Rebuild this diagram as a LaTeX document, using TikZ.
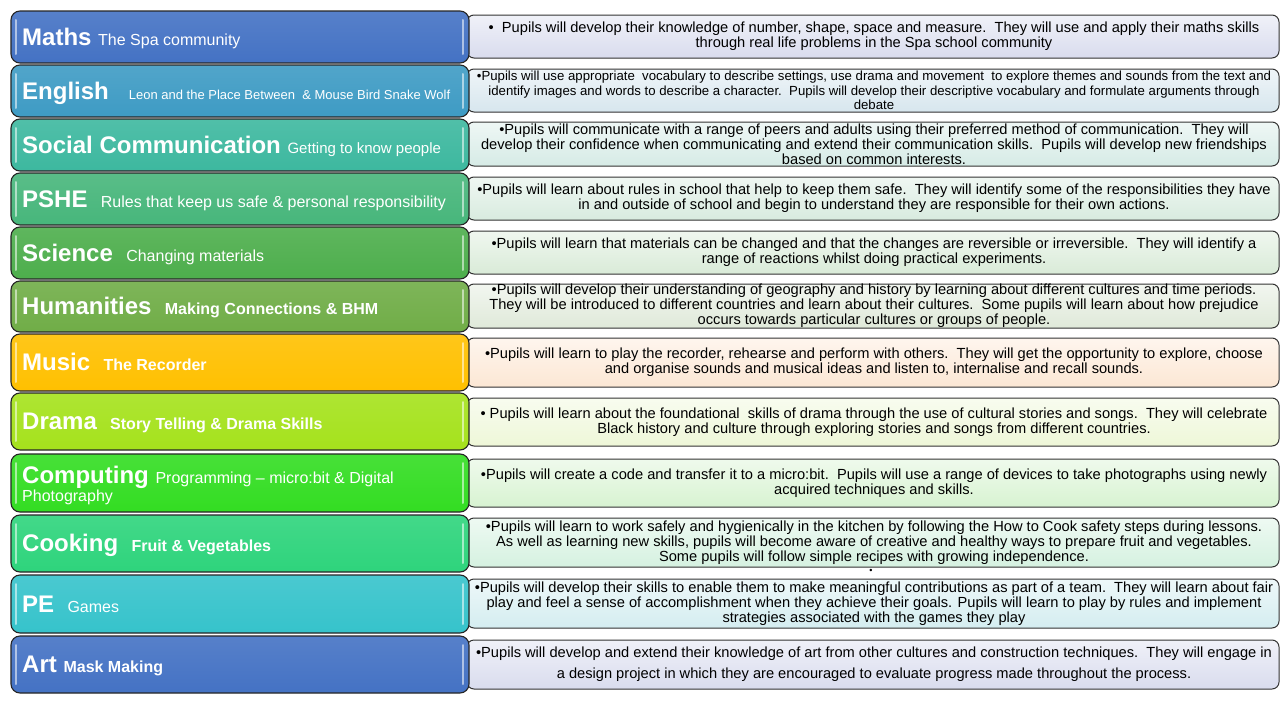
\documentclass[tikz,border=0pt]{standalone}
\usepackage{fontspec}
\setmainfont{Liberation Sans}
\newcommand\sbt[1]{{\fontsize{16}{18}\selectfont\mdseries #1}}
\newcommand\sbtb[1]{{\fontsize{16}{18}\selectfont\bfseries #1}}
\definecolor{cMaths}{HTML}{4472C4}\definecolor{rMaths}{HTML}{D9DCEE}
\definecolor{cEng}{HTML}{3E9BC4}\definecolor{rEng}{HTML}{D7E6EE}
\definecolor{cSoc}{HTML}{3DB89F}\definecolor{rSoc}{HTML}{D6EBE6}
\definecolor{cPSHE}{HTML}{47B67B}\definecolor{rPSHE}{HTML}{D8EBDF}
\definecolor{cSci}{HTML}{4DAE4C}\definecolor{rSci}{HTML}{D9EBD8}
\definecolor{cHum}{HTML}{70AD47}\definecolor{rHum}{HTML}{DFE9D9}
\definecolor{cMus}{HTML}{FFC000}\definecolor{rMus}{HTML}{FCE7D4}
\definecolor{cDra}{HTML}{A5E21C}\definecolor{rDra}{HTML}{EEF7D8}
\definecolor{cCom}{HTML}{33DD22}\definecolor{rCom}{HTML}{D7F3D1}
\definecolor{cCoo}{HTML}{2ED47C}\definecolor{rCoo}{HTML}{D5F1E0}
\definecolor{cPE}{HTML}{36C3CB}\definecolor{rPE}{HTML}{D4EDF0}
\definecolor{cArt}{HTML}{4472C4}\definecolor{rArt}{HTML}{D9DCEE}
\begin{document}
\begin{tikzpicture}[x=1pt,y=-1pt,
  lbox/.style={draw=black!85, line width=1.1pt, rounded corners=9pt, anchor=north west,
    minimum width=458pt, inner sep=0pt, outer sep=0pt, top color=#1!90!white, bottom color=#1},
  rbox/.style={draw=black!80, line width=1pt, rounded corners=7pt, anchor=north west,
    minimum width=812pt, inner sep=0pt, outer sep=0pt, top color=white!60!#1, bottom color=#1},
  ttl/.style={anchor=base west, inner sep=0pt, text=white, font=\fontsize{24}{26}\selectfont\bfseries},
  rtxt/.style={align=center, inner sep=0pt, text=black, font=\fontsize{14.65}{15}\selectfont},
  hl/.style={draw=white, opacity=0.55, line width=2pt, line cap=round}
]
\useasboundingbox[fill=white] (0,0) rectangle (1280,720);

% ---------- right boxes ----------
\node[rbox=rMaths, minimum height=43pt] (r1) at (467,15) {};
\node[rbox=rEng,   minimum height=43pt] (r2) at (467,69) {};
\node[rbox=rSoc,   minimum height=44pt] (r3) at (467,122) {};
\node[rbox=rPSHE,  minimum height=43pt] (r4) at (467,177) {};
\node[rbox=rSci,   minimum height=43pt] (r5) at (467,231) {};
\node[rbox=rHum,   minimum height=44pt] (r6) at (467,284) {};
\node[rbox=rMus,   minimum height=49pt] (r7) at (467,338) {};
\node[rbox=rDra,   minimum height=48pt] (r8) at (467,398) {};
\node[rbox=rCom,   minimum height=48pt] (r9) at (467,459) {};
\node[rbox=rCoo,   minimum height=49pt] (r10) at (467,518) {};
\node[rbox=rPE,    minimum height=49pt] (r11) at (467,579) {};
\node[rbox=rArt,   minimum height=49pt] (r12) at (467,640) {};

% ---------- right texts ----------
\node[rtxt] (t1) at (874,36.5) {•\ \ Pupils will develop their knowledge of number, shape, space and measure.\ \ They will use and apply their maths skills\\through real life problems in the Spa school community};
\node[rtxt, font=\fontsize{13.2}{14.5}\selectfont] (t2) at (874,90.5) {•Pupils will use appropriate\ \ vocabulary to describe settings, use drama and movement\ \ to explore themes and sounds from the text and\\identify images and words to describe a character.\ \ Pupils will develop their descriptive vocabulary and formulate arguments through\\debate};
\node[rtxt] (t3) at (874,144) {•Pupils will communicate with a range of peers and adults using their preferred method of communication.\ \ They will\\develop their confidence when communicating and extend their communication skills.\ \ Pupils will develop new friendships\\based on common interests.};
\node[rtxt] (t4) at (874,198.5) {•Pupils will learn about rules in school that help to keep them safe.\ \ They will identify some of the responsibilities they have\\in and outside of school and begin to understand they are responsible for their own actions.};
\node[rtxt] (t5) at (874,252.5) {•Pupils will learn that materials can be changed and that the changes are reversible or irreversible.\ \ They will identify a\\range of reactions whilst doing practical experiments.};
\node[rtxt] (t6) at (874,306) {•Pupils will develop their understanding of geography and history by learning about different cultures and time periods.\\They will be introduced to different countries and learn about their cultures.\ \ Some pupils will learn about how prejudice\\occurs towards particular cultures or groups of people.};
\node[rtxt] (t7) at (874,362) {•Pupils will learn to play the recorder, rehearse and perform with others.\ \ They will get the opportunity to explore, choose\\and organise sounds and musical ideas and listen to, internalise and recall sounds.};
\node[rtxt] (t8) at (874,422) {• Pupils will learn about the foundational\ \ skills of drama through the use of cultural stories and songs.\ \ They will celebrate\\Black history and culture through exploring stories and songs from different countries.};
\node[rtxt] (t9) at (874,483) {•Pupils will create a code and transfer it to a micro:bit.\ \ Pupils will use a range of devices to take photographs using newly\\acquired techniques and skills.};
\node[rtxt] (t10) at (874,543) {•Pupils will learn to work safely and hygienically in the kitchen by following the How to Cook safety steps during lessons.\\As well as learning new skills, pupils will become aware of creative and healthy ways to prepare fruit and vegetables.\\Some pupils will follow simple recipes with growing independence.};
\node[inner sep=0pt, font=\fontsize{9}{9}\selectfont] (dot) at (871,571) {•};
\node[rtxt] (t11) at (874,604) {•Pupils will develop their skills to enable them to make meaningful contributions as part of a team.\ \ They will learn about fair\\play and feel a sense of accomplishment when they achieve their goals. Pupils will learn to play by rules and implement\\strategies associated with the games they play};
\node[rtxt, font=\fontsize{14.65}{21}\selectfont] (t12) at (874,664) {•Pupils will develop and extend their knowledge of art from other cultures and construction techniques.\ \ They will engage in\\a design project in which they are encouraged to evaluate progress made throughout the process.};

% ---------- left boxes ----------
\node[lbox=cMaths, minimum height=52pt] (l1) at (11,11) {};
\node[lbox=cEng,   minimum height=52pt] (l2) at (11,65) {};
\node[lbox=cSoc,   minimum height=52pt] (l3) at (11,119) {};
\node[lbox=cPSHE,  minimum height=52pt] (l4) at (11,173) {};
\node[lbox=cSci,   minimum height=52pt] (l5) at (11,227) {};
\node[lbox=cHum,   minimum height=51pt] (l6) at (11,281) {};
\node[lbox=cMus,   minimum height=57pt] (l7) at (11,334) {};
\node[lbox=cDra,   minimum height=57pt] (l8) at (11,393) {};
\node[lbox=cCom,   minimum height=58pt] (l9) at (11,454) {};
\node[lbox=cCoo,   minimum height=57pt] (l10) at (11,515) {};
\node[lbox=cPE,    minimum height=58pt] (l11) at (11,575) {};
\node[lbox=cArt,   minimum height=57pt] (l12) at (11,636) {};

\foreach \n in {l1,l2,l3,l4,l5,l6,l7,l8,l9,l10,l11,l12}{
  \draw[hl] ([xshift=5pt,yshift=-9pt]\n.north west) -- ([xshift=5pt,yshift=9pt]\n.south west);
  \draw[hl] ([xshift=-6pt,yshift=-9pt]\n.north east) -- ([xshift=-6pt,yshift=9pt]\n.south east);
}

% ---------- left titles ----------
\node[ttl] (h1) at (22,45) {Maths \sbt{The Spa community}};
\node[ttl] (h2) at (22,99) {English\ \ \ {\fontsize{13}{15}\selectfont\mdseries Leon and the Place Between\ \ \& Mouse Bird Snake Wolf}};
\node[ttl] (h3) at (22,153) {Social Communication {\fontsize{15}{18}\selectfont\mdseries Getting to know people}};
\node[ttl] (h4) at (22,207) {PSHE\ \ \sbt{Rules that keep us safe \& personal responsibility}};
\node[ttl] (h5) at (22,261) {Science\ \ \sbt{Changing materials}};
\node[ttl] (h6) at (22,314) {Humanities\ \ \sbtb{Making Connections \& BHM}};
\node[ttl] (h7) at (22,370) {Music\ \ \sbtb{The Recorder}};
\node[ttl] (h8) at (22,429) {Drama\ \ \sbtb{Story Telling \& Drama Skills}};
\node[ttl] (h9) at (22,483) {Computing \sbt{Programming – micro:bit \& Digital}};
\node[ttl] (h9b) at (22,501) {\sbt{Photography}};
\node[ttl] (h10) at (22,551) {Cooking\ \ \sbtb{Fruit \& Vegetables}};
\node[ttl] (h11) at (22,612) {PE\ \ \sbt{Games}};
\node[ttl] (h12) at (22,672) {Art \sbtb{Mask Making}};
\end{tikzpicture}
\end{document}
